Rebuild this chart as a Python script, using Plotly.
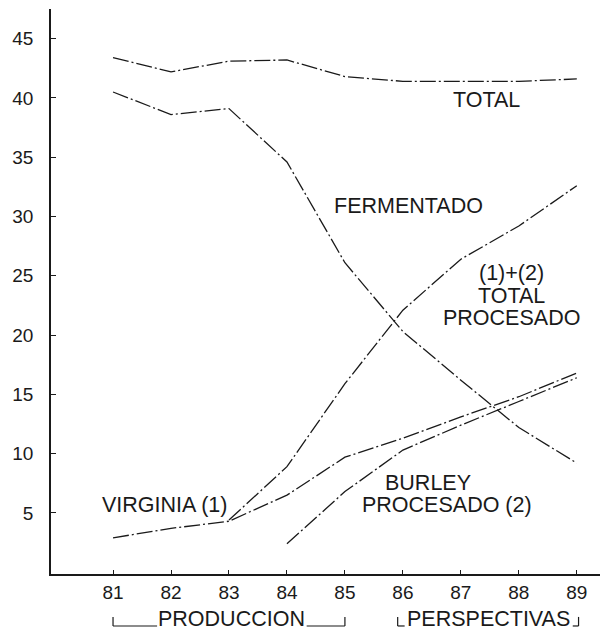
import plotly.graph_objects as go

years = [81, 82, 83, 84, 85, 86, 87, 88, 89]
total = [43.4, 42.2, 43.1, 43.2, 41.8, 41.4, 41.4, 41.4, 41.6]
fermentado = [40.5, 38.6, 39.1, 34.6, 26.1, 20.3, 16.2, 12.2, 9.2]
procesado_years = [83, 84, 85, 86, 87, 88, 89]
total_procesado = [4.4, 8.9, 15.9, 22.1, 26.4, 29.2, 32.6]
virginia = [2.9, 3.7, 4.3, 6.5, 9.7, 11.3, 13.1, 14.8, 16.8]
burley_years = [84, 85, 86, 87, 88, 89]
burley = [2.4, 6.8, 10.3, 12.4, 14.4, 16.4]

ytick_vals = [5, 10, 15, 20, 25, 30, 35, 40, 45]

FONT = "Liberation Sans, Arial, sans-serif"
DASH = "16px,3px,2px,3px"
INK = "#1a1a1a"
LABEL_SIZE = 21.5

fig = go.Figure()
for xs, ys in [(years, total), (years, fermentado), (procesado_years, total_procesado),
               (years, virginia), (burley_years, burley)]:
    fig.add_trace(go.Scatter(x=xs, y=ys, mode="lines",
                             line=dict(color=INK, width=1.3, dash=DASH),
                             showlegend=False, hoverinfo="skip"))

labels = [
    (87.45, 39.8, "TOTAL"),
    (86.09, 30.9, "FERMENTADO"),
    (87.88, 25.2, "(1)+(2)"),
    (87.88, 23.3, "TOTAL"),
    (87.88, 21.4, "PROCESADO"),
    (86.43, 7.5, "BURLEY"),
    (86.76, 5.65, "PROCESADO (2)"),
    (81.88, 5.65, "VIRGINIA (1)"),
]
for x, y, t in labels:
    fig.add_annotation(x=x, y=y, text=t, showarrow=False, xanchor="center", yanchor="middle",
                       font=dict(family=FONT, size=LABEL_SIZE, color=INK))

# period brackets under the axis
periods = [("PRODUCCION", 81, 85, 81.76, 84.34), ("PERSPECTIVAS", 85.91, 89.03, 86.03, 88.93)]
yl, yt, ytext = -0.092, -0.076, -0.079
for name, x0, x1, g0, g1 in periods:
    for a, b in [(x0, g0), (g1, x1)]:
        fig.add_shape(type="line", xref="x", yref="paper", x0=a, x1=b, y0=yl, y1=yl,
                      line=dict(color=INK, width=1.2))
    for a in (x0, x1):
        fig.add_shape(type="line", xref="x", yref="paper", x0=a, x1=a, y0=yl, y1=yt,
                      line=dict(color=INK, width=1.2))
    fig.add_annotation(x=(g0 + g1) / 2, y=ytext, xref="x", yref="paper", text=name,
                       showarrow=False, xanchor="center", yanchor="middle",
                       font=dict(family=FONT, size=LABEL_SIZE, color=INK))

# page body has an 8px margin: size figure so the plot area lands where the reference has it
fig.update_layout(
    width=605, height=624,
    margin=dict(l=43, r=13, t=1, b=58),
    plot_bgcolor="white", paper_bgcolor="white",
    font=dict(family=FONT, color=INK),
)
fig.update_xaxes(range=[79.93, 89.4], tickvals=years, ticktext=[str(y) for y in years],
                 showgrid=False, zeroline=False, showline=True, linecolor=INK, linewidth=1.5,
                 ticks="inside", ticklen=4, tickcolor=INK, tickfont=dict(size=19),
                 ticklabelstandoff=0)
fig.update_yaxes(range=[-0.15, 47.5], tickvals=ytick_vals, ticktext=[str(v) for v in ytick_vals],
                 showgrid=False, zeroline=False, showline=True, linecolor=INK, linewidth=1.5,
                 ticks="inside", ticklen=5, tickcolor=INK, tickfont=dict(size=19),
                 ticklabelstandoff=12)

fig.write_html("out.html")
